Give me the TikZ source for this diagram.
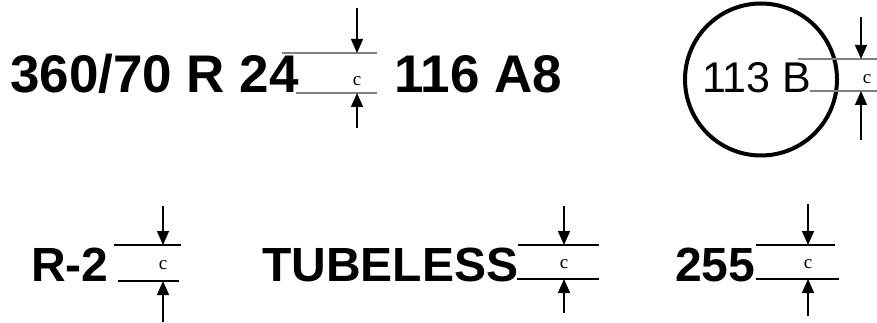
\documentclass[tikz,border=0pt]{standalone}
\usepackage{fontspec}
\setmainfont{Liberation Sans}
\newfontfamily\serifc{Liberation Serif}
\usetikzlibrary{arrows.meta}
\begin{document}
\begin{tikzpicture}[x=1pt,y=-1pt,
  bigtop/.style={inner sep=0pt,anchor=base west,font=\fontsize{53}{53}\selectfont\bfseries},
  bigbot/.style={inner sep=0pt,anchor=base west,font=\fontsize{48}{48}\selectfont\bfseries},
  circtext/.style={inner sep=0pt,anchor=base west,font=\fontsize{43}{43}\selectfont},
  grayline/.style={draw=black!50,line width=1.3pt},
  blackline/.style={draw=black,line width=1.3pt},
  darrow/.style={-{Triangle[length=14pt,width=12pt]},line width=1.4pt},
  clab/.style={inner sep=0pt,font=\serifc\fontsize{19}{19}\selectfont},
  ring/.style={draw=black,line width=4pt}]
\useasboundingbox (0,0) rectangle (877,323);

% ---------- top row ----------
\node[bigtop] (t1) at (10,93) {360/70 R 24};
\node[bigtop] (t2) at (394,93) {116 A8};

\coordinate (a1tl) at (282,53); \coordinate (a1tr) at (377,53);
\coordinate (a1bl) at (296,93); \coordinate (a1br) at (377,93);
\coordinate (a1top) at (357,8); \coordinate (a1tip) at (357,53);
\coordinate (a1bot) at (357,128); \coordinate (a1tipb) at (357,93);
\draw[grayline] (a1tl) -- (a1tr);
\draw[grayline] (a1bl) -- (a1br);
\draw[darrow] (a1top) -- (a1tip);
\draw[darrow] (a1bot) -- (a1tipb);
\node[clab] (c1) at (357,81) {c};

% circle with 113 B
\node[ring,circle,minimum size=152pt,inner sep=0pt] (ring) at (761,79.5) {};
\node[circtext] (t3) at (702,93) {113 B};

\coordinate (a2tl) at (798,59); \coordinate (a2tr) at (877,59);
\coordinate (a2bl) at (810,91); \coordinate (a2br) at (877,91);
\coordinate (a2top) at (861,17); \coordinate (a2tip) at (861,59);
\coordinate (a2bot) at (861,140); \coordinate (a2tipb) at (861,91);
\draw[grayline] (a2tl) -- (a2tr);
\draw[grayline] (a2bl) -- (a2br);
\draw[darrow] (a2top) -- (a2tip);
\draw[darrow] (a2bot) -- (a2tipb);
\node[clab] (c2) at (867,79) {c};

% ---------- bottom row ----------
\node[bigbot] (b1) at (31,281) {R-2};
\coordinate (a3tl) at (114,245); \coordinate (a3tr) at (181,245);
\coordinate (a3bl) at (118,281); \coordinate (a3br) at (179,281);
\coordinate (a3top) at (163,206); \coordinate (a3tip) at (163,245);
\coordinate (a3bot) at (163,322); \coordinate (a3tipb) at (163,281);
\draw[blackline] (a3tl) -- (a3tr);
\draw[blackline] (a3bl) -- (a3br);
\draw[darrow] (a3top) -- (a3tip);
\draw[darrow] (a3bot) -- (a3tipb);
\node[clab] (c3) at (163,265) {c};

\node[bigbot] (b2) at (262,281) {TUBELESS};
\coordinate (a4tl) at (518,245); \coordinate (a4tr) at (599,245);
\coordinate (a4bl) at (517,279); \coordinate (a4br) at (599,279);
\coordinate (a4top) at (564,206); \coordinate (a4tip) at (564,245);
\coordinate (a4bot) at (564,313); \coordinate (a4tipb) at (564,279);
\draw[blackline] (a4tl) -- (a4tr);
\draw[blackline] (a4bl) -- (a4br);
\draw[darrow] (a4top) -- (a4tip);
\draw[darrow] (a4bot) -- (a4tipb);
\node[clab] (c4) at (564,264) {c};

\node[bigbot] (b3) at (675,281) {255};
\coordinate (a5tl) at (756,245); \coordinate (a5tr) at (835,245);
\coordinate (a5bl) at (756,279); \coordinate (a5br) at (839,279);
\coordinate (a5top) at (808,204); \coordinate (a5tip) at (808,245);
\coordinate (a5bot) at (808,316); \coordinate (a5tipb) at (808,279);
\draw[blackline] (a5tl) -- (a5tr);
\draw[blackline] (a5bl) -- (a5br);
\draw[darrow] (a5top) -- (a5tip);
\draw[darrow] (a5bot) -- (a5tipb);
\node[clab] (c5) at (808,264) {c};
\end{tikzpicture}
\end{document}
